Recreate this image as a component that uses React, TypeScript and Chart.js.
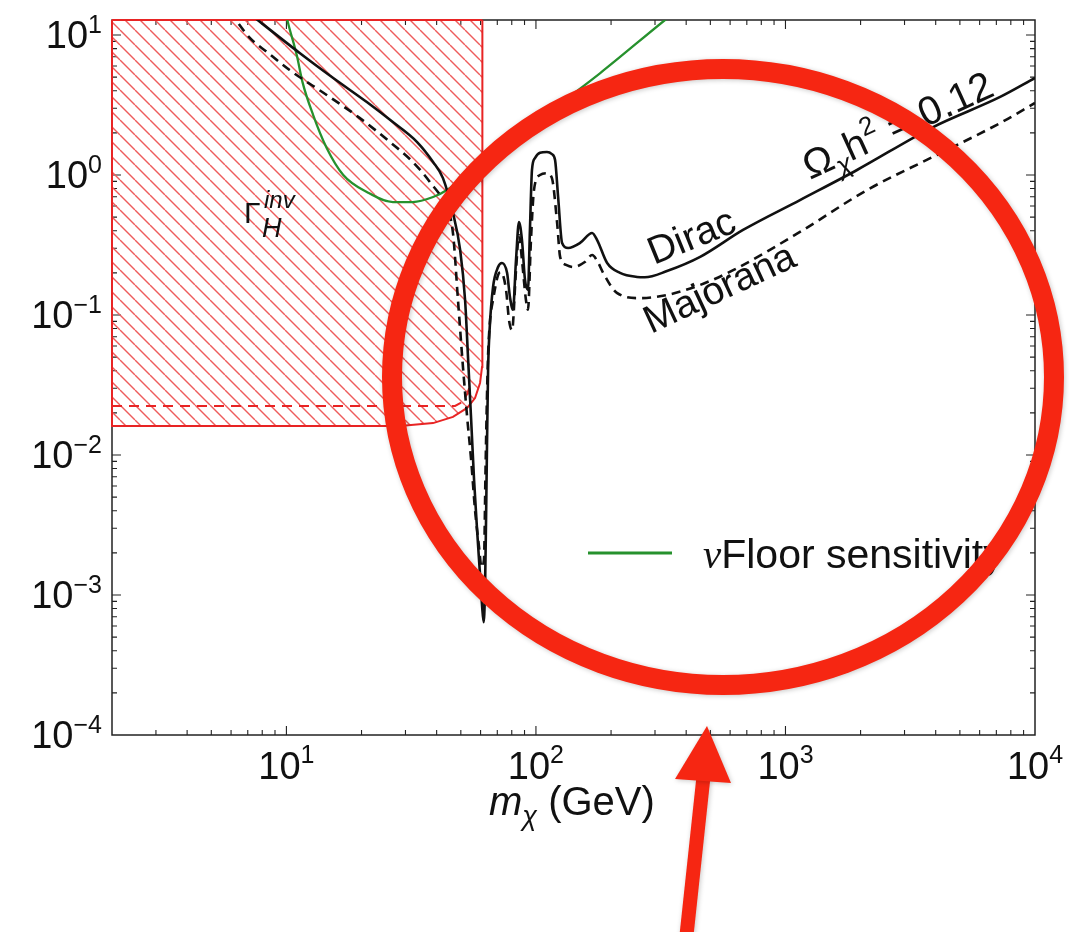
import React, { useEffect, useRef } from "react";
import { Chart, registerables } from "chart.js";

Chart.register(...registerables);

// Axis ranges (dark-matter mass in GeV, coupling on the vertical axis)
const X_MIN = 2;
const X_MAX = 1e4;
const Y_MIN = 1e-4;
const Y_MAX = 12.8;

const X_TICKS = [10, 100, 1000, 10000];
const X_TICK_EXP = ["1", "2", "3", "4"];
const Y_TICKS = [10, 1, 0.1, 0.01, 0.001, 0.0001];
const Y_TICK_EXP = ["1", "0", "\u22121", "\u22122", "\u22123", "\u22124"];

// Ω_χ h² = 0.12 contour, Dirac fermion
const DIRAC_MASS = [
  6.82, 11.3, 15.4, 21.0, 26.7, 33.4, 38.7, 42.4, 46.5, 49.7,
  52.0, 53.5, 55.0, 56.5, 58.1, 59.7, 60.8, 61.7, 62.5, 63.1,
  63.7, 64.3, 65.2, 67.3, 70.5, 73.1, 76.6, 78.7, 80.9, 83.2,
  85.5, 87.9, 90.4, 92.9, 94.6, 96.4, 99.1, 103.8, 110.7, 115.9,
  119.3, 122.7, 127.3, 134.6, 150.3, 167.9, 175.9, 192.9, 217.3, 254.2,
  273, 335, 455, 676, 1143, 1935, 3906, 7250, 10000,
];
const DIRAC_COUPLING = [
  15.1, 7.44, 4.93, 3.32, 2.39, 1.72, 1.24, 0.95, 0.535, 0.291,
  0.128, 0.0477, 0.0178, 0.00663, 0.00291, 0.00139, 0.00085, 0.00064, 0.00109, 0.00344,
  0.0128, 0.0405, 0.078, 0.158, 0.22, 0.235, 0.2, 0.134, 0.109, 0.247,
  0.462, 0.343, 0.178, 0.151, 0.405, 1.086, 1.32, 1.44, 1.46, 1.41,
  1.28, 0.697, 0.327, 0.301, 0.327, 0.385, 0.343, 0.235, 0.2, 0.187,
  0.186, 0.206, 0.26, 0.405, 0.662, 1.086, 2.2, 3.61, 4.93,
];

// Ω_χ h² = 0.12 contour, Majorana fermion
const MAJORANA_MASS = [
  5.94, 7.15, 8.36, 10.3, 14.5, 19.7, 26.0, 32.1, 37.6, 43.2,
  46.5, 48.7, 51.0, 53.0, 55.0, 57.0, 59.2, 60.5, 61.9, 62.8,
  63.6, 64.3, 65.5, 67.3, 70.5, 72.4, 75.9, 78.0, 80.2, 83.2,
  85.5, 87.9, 91.2, 92.9, 95.5, 98.2, 103.8, 110.7, 115.9, 121.6,
  125, 132, 141, 157, 168, 177, 186, 211, 261, 335,
  455, 617, 1143, 2123, 3906, 7250, 10000,
];
const MAJORANA_COUPLING = [
  14.6, 9.5, 7.56, 5.62, 3.73, 2.55, 1.72, 1.24, 0.89, 0.61,
  0.385, 0.128, 0.0425, 0.0187, 0.0092, 0.00405, 0.00217, 0.00158, 0.00178, 0.0078,
  0.0247, 0.0518, 0.092, 0.128, 0.193, 0.203, 0.151, 0.092, 0.078, 0.209,
  0.373, 0.247, 0.128, 0.109, 0.343, 0.781, 1.0, 1.03, 0.95, 0.454,
  0.26, 0.228, 0.22, 0.239, 0.268, 0.239, 0.2, 0.144, 0.132, 0.139,
  0.164, 0.209, 0.392, 0.781, 1.35, 2.35, 3.27,
];

// Neutrino-floor direct-detection reach
const FLOOR_MASS = [9.86, 10.2, 11.0, 11.6, 12.8, 14.5, 16.9, 21.0, 26.7, 32.1, 38.7, 44.0, 57.0, 78.7, 108.6, 181, 329, 379];
const FLOOR_COUPLING = [15.1, 11.8, 7.2, 4.61, 2.68, 1.56, 1.0, 0.756, 0.641, 0.641, 0.696, 0.781, 1.12, 1.75, 2.68, 5.35, 12.8, 15.6];

// Invisible Higgs width: excluded region (current bound)
const HINV_MASS = [2, 2, 28.5, 38.7, 46.5, 53.0, 57.0, 59.7, 60.8, 61.0, 61.0];
const HINV_COUPLING = [Y_MAX, 0.0161, 0.0161, 0.0169, 0.0187, 0.0217, 0.0255, 0.0327, 0.0425, 0.066, Y_MAX];

// Invisible Higgs width: projected bound
const HINV_PROJ_MASS = [2, 47.4, 50.5, 53.0, 54.6];
const HINV_PROJ_COUPLING = [0.0224, 0.0224, 0.0238, 0.0272, 0.032];

const SANS = '"Liberation Sans", Arial, Helvetica, sans-serif';
const SERIF = '"Liberation Serif", "Times New Roman", serif';
const RED = "rgb(232,36,36)";
const HATCH = "rgb(238,92,92)";
const GREEN = "rgb(38,145,45)";
const INK = "#111";
const MARKER = "rgb(246,38,18)";

type Run = { text: string; size: number; italic?: boolean; dy?: number; family?: string };

const pts = (xs: number[], ys: number[]) => xs.map((x, i) => ({ x, y: ys[i] }));

function setFont(ctx: CanvasRenderingContext2D, r: Run) {
  ctx.font = `${r.italic ? "italic " : ""}${r.size}px ${r.family || SANS}`;
}

function runsWidth(ctx: CanvasRenderingContext2D, runs: Run[]) {
  let w = 0;
  for (const r of runs) {
    setFont(ctx, r);
    w += ctx.measureText(r.text).width;
  }
  return w;
}

function drawRuns(ctx: CanvasRenderingContext2D, runs: Run[], x: number, y: number) {
  let cx = x;
  ctx.textAlign = "left";
  ctx.textBaseline = "alphabetic";
  for (const r of runs) {
    setFont(ctx, r);
    ctx.fillText(r.text, cx, y + (r.dy || 0));
    cx += ctx.measureText(r.text).width;
  }
}

function drawRotated(ctx: CanvasRenderingContext2D, runs: Run[], x: number, y: number, deg: number) {
  ctx.save();
  ctx.translate(x, y);
  ctx.rotate((deg * Math.PI) / 180);
  drawRuns(ctx, runs, 0, 0);
  ctx.restore();
}

const framePlugin = {
  id: "frame",
  beforeDatasetsDraw(chart: any) {
    const { ctx, chartArea: a } = chart;
    const xs = chart.scales.x;
    const ys = chart.scales.y;
    ctx.save();
    ctx.strokeStyle = "#222";
    ctx.lineWidth = 1.5;
    ctx.strokeRect(a.left, a.top, a.right - a.left, a.bottom - a.top);
    ctx.lineWidth = 1.1;
    ctx.beginPath();
    for (let e = 0; e <= 4; e++) {
      for (let m = 1; m <= 9; m++) {
        const v = m * Math.pow(10, e);
        if (v <= X_MIN || v >= X_MAX) continue;
        const px = xs.getPixelForValue(v);
        const len = m === 1 ? 9 : 5;
        ctx.moveTo(px, a.bottom);
        ctx.lineTo(px, a.bottom - len);
        ctx.moveTo(px, a.top);
        ctx.lineTo(px, a.top + len);
      }
    }
    for (let e = -4; e <= 1; e++) {
      for (let m = 1; m <= 9; m++) {
        const v = m * Math.pow(10, e);
        if (v <= Y_MIN || v >= Y_MAX) continue;
        const py = ys.getPixelForValue(v);
        const len = m === 1 ? 9 : 5;
        ctx.moveTo(a.left, py);
        ctx.lineTo(a.left + len, py);
        ctx.moveTo(a.right, py);
        ctx.lineTo(a.right - len, py);
      }
    }
    ctx.stroke();
    ctx.restore();
  },
  afterDatasetsDraw(chart: any) {
    const { ctx, chartArea: a } = chart;
    const xs = chart.scales.x;
    const ys = chart.scales.y;
    ctx.save();
    ctx.fillStyle = "#111";

    // tick labels
    X_TICKS.forEach((v, i) => {
      const runs: Run[] = [
        { text: "10", size: 38 },
        { text: X_TICK_EXP[i], size: 25, dy: -16 },
      ];
      const w = runsWidth(ctx, runs);
      drawRuns(ctx, runs, xs.getPixelForValue(v) - w / 2, a.bottom + 44);
    });
    Y_TICKS.forEach((v, i) => {
      const runs: Run[] = [
        { text: "10", size: 38 },
        { text: Y_TICK_EXP[i], size: 25, dy: -15 },
      ];
      const w = runsWidth(ctx, runs);
      drawRuns(ctx, runs, a.left - 10 - w, ys.getPixelForValue(v) + 13);
    });

    // axis title
    drawRuns(
      ctx,
      [
        { text: "m", size: 40, italic: true },
        { text: "\u03c7", size: 27, italic: true, dy: 10 },
        { text: " (GeV)", size: 40 },
      ],
      489,
      815
    );

    // region and curve labels
    drawRuns(ctx, [{ text: "\u0393", size: 30 }], 244, 223);
    drawRuns(ctx, [{ text: "inv", size: 24, italic: true }], 264, 208);
    drawRuns(ctx, [{ text: "H", size: 27, italic: true }], 262, 237);

    drawRotated(ctx, [{ text: "Dirac", size: 39 }], 654, 265, -22);
    drawRotated(ctx, [{ text: "Majorana", size: 39 }], 651, 334, -25);
    drawRotated(
      ctx,
      [
        { text: "\u03a9", size: 40 },
        { text: "\u03c7", size: 27, italic: true, dy: 9 },
        { text: "h", size: 40 },
        { text: "2", size: 26, dy: -17 },
        { text: " = 0.12", size: 40 },
      ],
      810,
      180,
      -24.5
    );

    // legend
    ctx.strokeStyle = GREEN;
    ctx.lineWidth = 3;
    ctx.beginPath();
    ctx.moveTo(588, 553);
    ctx.lineTo(672, 553);
    ctx.stroke();
    drawRuns(
      ctx,
      [
        { text: "\u03bd", size: 41, italic: true, family: SERIF },
        { text: "Floor sensitivity", size: 41 },
      ],
      703,
      568
    );

    // highlight ring and pointer arrow
    ctx.strokeStyle = MARKER;
    ctx.fillStyle = MARKER;
    ctx.shadowColor = "rgba(0,0,0,0.22)";
    ctx.shadowBlur = 5;
    ctx.shadowOffsetX = 1;
    ctx.shadowOffsetY = 1;
    ctx.lineWidth = 20;
    ctx.beginPath();
    ctx.ellipse(723, 377, 331, 308, 0, 0, Math.PI * 2);
    ctx.stroke();

    ctx.lineWidth = 14;
    ctx.lineCap = "butt";
    ctx.beginPath();
    ctx.moveTo(704, 772);
    ctx.lineTo(686, 940);
    ctx.stroke();
    ctx.beginPath();
    ctx.moveTo(707, 726);
    ctx.lineTo(731, 783);
    ctx.lineTo(675, 779);
    ctx.closePath();
    ctx.fill();
    ctx.restore();
  },
};

export default function App() {
  const ref = useRef<HTMLCanvasElement>(null);

  useEffect(() => {
    const canvas = ref.current;
    if (!canvas) return;
    const ctx = canvas.getContext("2d");
    if (!ctx) return;

    // diagonal hatching for the excluded region
    const tile = document.createElement("canvas");
    tile.width = 15;
    tile.height = 15;
    const t = tile.getContext("2d")!;
    t.strokeStyle = HATCH;
    t.lineWidth = 1.4;
    for (const k of [-15, 0, 15]) {
      t.beginPath();
      t.moveTo(k, 0);
      t.lineTo(k + 15, 15);
      t.stroke();
    }
    const hatch = ctx.createPattern(tile, "repeat");

    const chart = new Chart(canvas, {
      type: "line",
      data: {
        datasets: [
          {
            label: "Dirac",
            data: pts(DIRAC_MASS, DIRAC_COUPLING),
            borderColor: INK,
            borderWidth: 2.6,
            cubicInterpolationMode: "monotone",
            pointRadius: 0,
            fill: false,
          },
          {
            label: "Majorana",
            data: pts(MAJORANA_MASS, MAJORANA_COUPLING),
            borderColor: INK,
            borderWidth: 2.6,
            borderDash: [9, 6],
            cubicInterpolationMode: "monotone",
            pointRadius: 0,
            fill: false,
          },
          {
            label: "\u03bdFloor sensitivity",
            data: pts(FLOOR_MASS, FLOOR_COUPLING),
            borderColor: GREEN,
            borderWidth: 2.3,
            cubicInterpolationMode: "monotone",
            pointRadius: 0,
            fill: false,
          },
          {
            label: "\u0393H inv projected",
            data: pts(HINV_PROJ_MASS, HINV_PROJ_COUPLING),
            borderColor: RED,
            borderWidth: 2,
            borderDash: [10, 7],
            tension: 0,
            pointRadius: 0,
            fill: false,
          },
          {
            label: "\u0393H inv top",
            data: pts([X_MIN, 61.0], [Y_MAX, Y_MAX]),
            borderColor: RED,
            borderWidth: 2,
            pointRadius: 0,
            fill: false,
            clip: false,
          },
          {
            label: "\u0393H inv",
            data: pts(HINV_MASS, HINV_COUPLING),
            borderColor: RED,
            borderWidth: 2,
            backgroundColor: hatch as any,
            tension: 0,
            pointRadius: 0,
            fill: "end",
            clip: false,
          },
        ] as any,
      },
      options: {
        animation: false,
        responsive: false,
        devicePixelRatio: 1,
        events: [],
        layout: { padding: { left: 112, top: 20, right: 34, bottom: 197 } },
        scales: {
          x: { type: "logarithmic", min: X_MIN, max: X_MAX, bounds: "data", display: false },
          y: { type: "logarithmic", min: Y_MIN, max: Y_MAX, bounds: "data", display: false },
        },
        plugins: {
          legend: { display: false },
          tooltip: { enabled: false },
        },
      } as any,
      plugins: [framePlugin],
    });

    return () => chart.destroy();
  }, []);

  return (
    <div style={{ position: "fixed", left: 0, top: 0, width: 1069, height: 932, background: "#fff" }}>
      <canvas ref={ref} width={1069} height={932} style={{ display: "block", width: 1069, height: 932 }} />
    </div>
  );
}
